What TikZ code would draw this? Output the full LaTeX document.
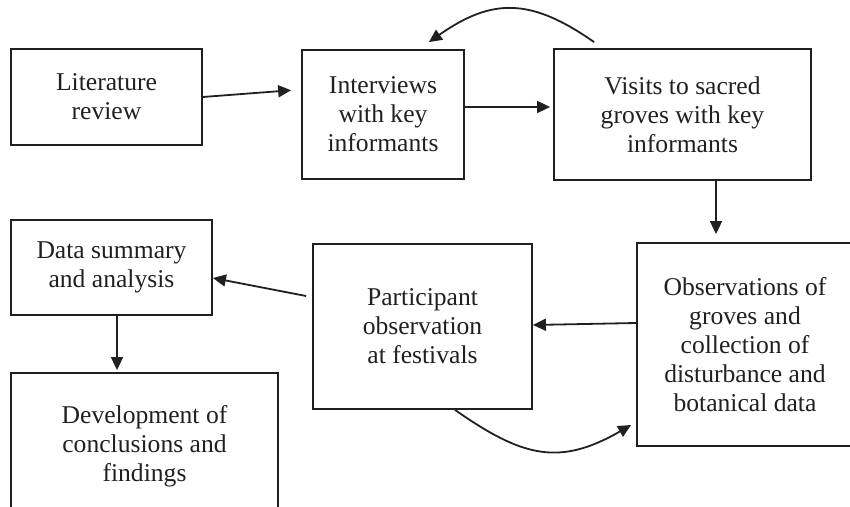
\documentclass[tikz,border=0pt]{standalone}
\usepackage{fontspec}
\setmainfont{Liberation Serif}
\usetikzlibrary{arrows.meta}
\definecolor{encre}{RGB}{35,31,32}
\begin{document}
\begin{tikzpicture}[x=1pt, y=1pt,
    boite/.style={draw=encre, line width=1.8pt, text=encre, align=center, inner sep=0pt,
      font=\fontsize{25.6}{29}\selectfont},
    fleche/.style={draw=encre, line width=1.8pt, -{Triangle[length=13pt,width=12pt]}}]
                \clip (0,0) rectangle (850,506);

                % Etapes
                \node[boite, minimum width=191pt, minimum height=96pt] (lit) at (106.5,409) {Literature\\review};
                \node[boite, minimum width=162pt, minimum height=129pt] (int) at (383,391.5) {Interviews\\with key\\informants};
                \node[boite, minimum width=257pt, minimum height=131pt] (vis) at (682.5,391.5) {Visits to sacred\\groves with key\\informants};
                \node[boite, minimum width=216pt, minimum height=203pt] (obs) at (745,161.5) {Observations of\\groves and\\collection of\\disturbance and\\botanical data};
                \node[boite, minimum width=219pt, minimum height=165pt] (par) at (422.5,179.5) {Participant\\observation\\at festivals};
                \node[boite, minimum width=201pt, minimum height=95pt] (dat) at (111.5,238.5) {Data summary\\and analysis};
                \node[boite, minimum width=267pt, minimum height=146pt] (dev) at (144.5,60) {Development of\\conclusions and\\findings};

                % Fleches droites
                \draw[fleche, shorten >=10pt] (lit.east) -- ([yshift=25pt]int.west);
                \draw[fleche, shorten >=3pt] ([yshift=7.5pt]int.east) -- ([yshift=7.5pt]int.east -| vis.west);
                \draw[fleche, shorten >=8pt] ([xshift=33.5pt]vis.south) -- ([xshift=33.5pt]vis.south |- obs.north);
                \draw[fleche] ([yshift=21.5pt]obs.west) -- ([yshift=1.5pt]par.east);
                \draw[fleche] ([xshift=-6pt,yshift=30.5pt]par.west) -- ([yshift=-10.5pt]dat.east);
                \draw[fleche, shorten >=2pt] ([xshift=5.5pt]dat.south) -- ([xshift=5.5pt]dat.south |- dev.north);

                % Retours courbes
                \draw[fleche] ([xshift=41pt,yshift=6pt]vis.north west) to[out=145, in=35, looseness=1.2] ([xshift=-36pt,yshift=7pt]int.north east);
                \draw[fleche] ([xshift=32.5pt]par.south) to[out=-35, in=210, looseness=1.2] ([xshift=-5pt,yshift=-80.5pt]obs.west);
            \end{tikzpicture}
\end{document}
